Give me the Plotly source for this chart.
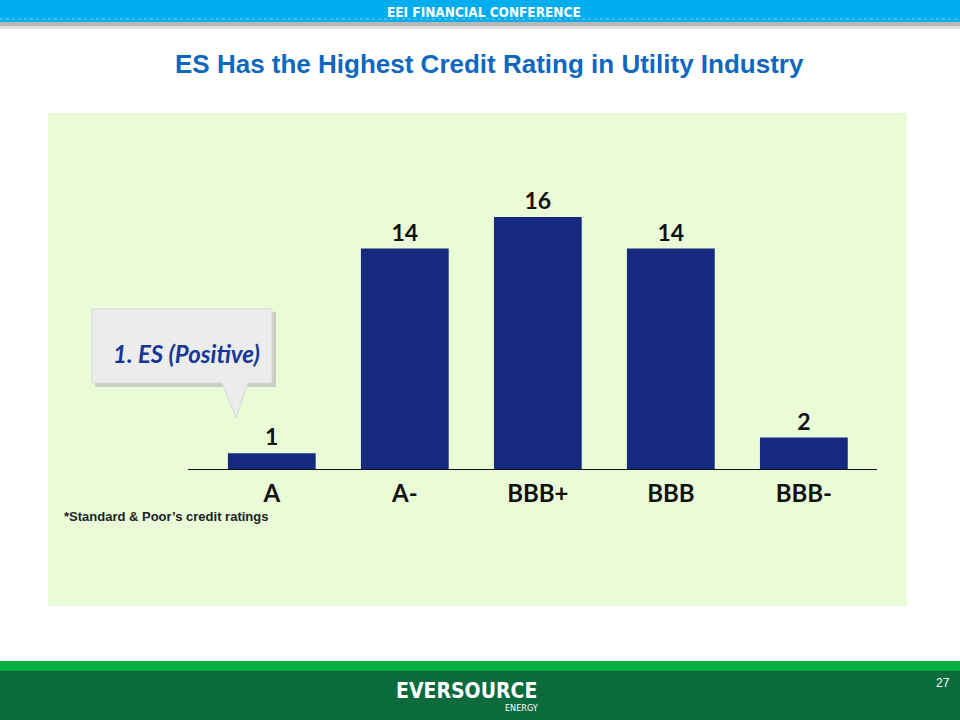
import plotly.graph_objects as go

ratings = ["A", "A-", "BBB+", "BBB", "BBB-"]
counts = [1, 14, 16, 14, 2]
title_text = "ES Has the Highest Credit Rating in Utility Industry"
header_text = "EEI FINANCIAL CONFERENCE"
callout_text = "<b><i>1. ES (Positive)</i></b>"
footnote_text = "*Standard & Poor\u2019s credit ratings"
page_no = "27"

W, H = 960, 720
def px(x): return x / W
def py(y): return 1 - y / H

fig = go.Figure()
fig.add_trace(go.Bar(
    x=ratings, y=counts,
    marker=dict(color="#15297f", line=dict(width=0)),
    width=0.66,
    text=["<b>" + str(c) + "</b>" for c in counts], textposition="outside",
    textfont=dict(family="Lato, Open Sans, sans-serif", size=23, color="#111111"),
    cliponaxis=False, hoverinfo="skip",
))

shapes = []
# header band
shapes.append(dict(type="rect", xref="paper", yref="paper", x0=0, x1=1, y0=py(22), y1=1,
                   fillcolor="#00aeef", line=dict(width=0), layer="below"))
shapes.append(dict(type="line", xref="paper", yref="paper", x0=0, x1=1, y0=py(19), y1=py(19),
                   line=dict(color="#6fd0f5", width=1, dash="dot"), layer="below"))
shapes.append(dict(type="rect", xref="paper", yref="paper", x0=0, x1=1, y0=py(26), y1=py(22),
                   fillcolor="#b8b8b8", line=dict(width=0), layer="below"))
shapes.append(dict(type="rect", xref="paper", yref="paper", x0=0, x1=1, y0=py(29), y1=py(26),
                   fillcolor="#e2e2e2", line=dict(width=0), layer="below"))
# green panel
shapes.append(dict(type="rect", xref="paper", yref="paper", x0=px(48), x1=px(907), y0=py(606), y1=py(113),
                   fillcolor="#eafbd8", line=dict(width=0), layer="below"))
# footer
shapes.append(dict(type="rect", xref="paper", yref="paper", x0=0, x1=1, y0=py(671), y1=py(661),
                   fillcolor="#00b140", line=dict(width=0), layer="below"))
shapes.append(dict(type="rect", xref="paper", yref="paper", x0=0, x1=1, y0=0, y1=py(671),
                   fillcolor="#0b6b3c", line=dict(width=0), layer="below"))
# callout shadow + box
shapes.append(dict(type="rect", xref="paper", yref="paper", x0=px(95), x1=px(276), y0=py(387), y1=py(312),
                   fillcolor="#c9cfc3", line=dict(width=0)))
path = (f"M {px(92)},{py(309)} L {px(272)},{py(309)} L {px(272)},{py(383)} "
        f"L {px(248)},{py(383)} L {px(236)},{py(418)} L {px(222)},{py(383)} "
        f"L {px(92)},{py(383)} Z")
shapes.append(dict(type="path", xref="paper", yref="paper", path=path,
                   fillcolor="#ececec", line=dict(color="#d8d8d8", width=1)))

annotations = [
    dict(text="<b>" + header_text + "</b>", x=px(484), y=py(12), xref="paper", yref="paper",
         showarrow=False, font=dict(family="DejaVu Sans Condensed, sans-serif", size=13.5, color="white"),
         xanchor="center", yanchor="middle"),
    dict(text="<b>" + title_text + "</b>", x=px(489), y=py(64), xref="paper", yref="paper",
         showarrow=False, font=dict(family="Liberation Sans, Arial, sans-serif", size=26, color="#1068be"),
         xanchor="center", yanchor="middle"),
    dict(text=callout_text, x=px(186), y=py(353), xref="paper", yref="paper",
         showarrow=False, font=dict(family="Lato, Open Sans, sans-serif", size=24, color="#163796"),
         xanchor="center", yanchor="middle"),
    dict(text="<b>" + footnote_text + "</b>", x=px(62), y=py(516), xref="paper", yref="paper",
         showarrow=False, font=dict(family="Liberation Sans, Arial, sans-serif", size=13, color="#222222"),
         xanchor="left", yanchor="middle"),
    dict(text="<b>EVERSOURCE</b>", x=px(466), y=py(691), xref="paper", yref="paper",
         showarrow=False, font=dict(family="DejaVu Sans Condensed, sans-serif", size=21, color="white"),
         xanchor="center", yanchor="middle"),
    dict(text="ENERGY", x=px(540), y=py(708), xref="paper", yref="paper",
         showarrow=False, font=dict(family="DejaVu Sans Condensed, sans-serif", size=9, color="white"),
         xanchor="right", yanchor="middle"),
    dict(text=page_no, x=px(943), y=py(683), xref="paper", yref="paper",
         showarrow=False, font=dict(family="Liberation Sans Narrow, Liberation Sans, sans-serif", size=12, color="white"),
         xanchor="center", yanchor="middle"),
]

fig.update_layout(
    width=W, height=H,
    margin=dict(l=0, r=0, t=0, b=0),
    paper_bgcolor="white", plot_bgcolor="rgba(0,0,0,0)",
    showlegend=False,
    shapes=shapes, annotations=annotations,
)
fig.update_xaxes(
    domain=[px(188), px(877)], range=[-0.63, 4.55],
    showline=True, linecolor="#111111", linewidth=1, showgrid=False, zeroline=False,
    ticks="", tickfont=dict(family="Lato, Open Sans, sans-serif", size=24, color="#111111"),
    ticklabelstandoff=3,
    tickvals=list(range(len(ratings))), ticktext=["<b>" + r + "</b>" for r in ratings],
)
fig.update_yaxes(
    domain=[py(469), py(180)], range=[0, 16 * (469 - 180) / (469 - 217)],
    visible=False, showgrid=False, zeroline=False,
)

fig.write_html("out.html", config={"displayModeBar": False, "staticPlot": True},
               post_script="document.body.style.margin='0';document.body.style.overflow='hidden';")
